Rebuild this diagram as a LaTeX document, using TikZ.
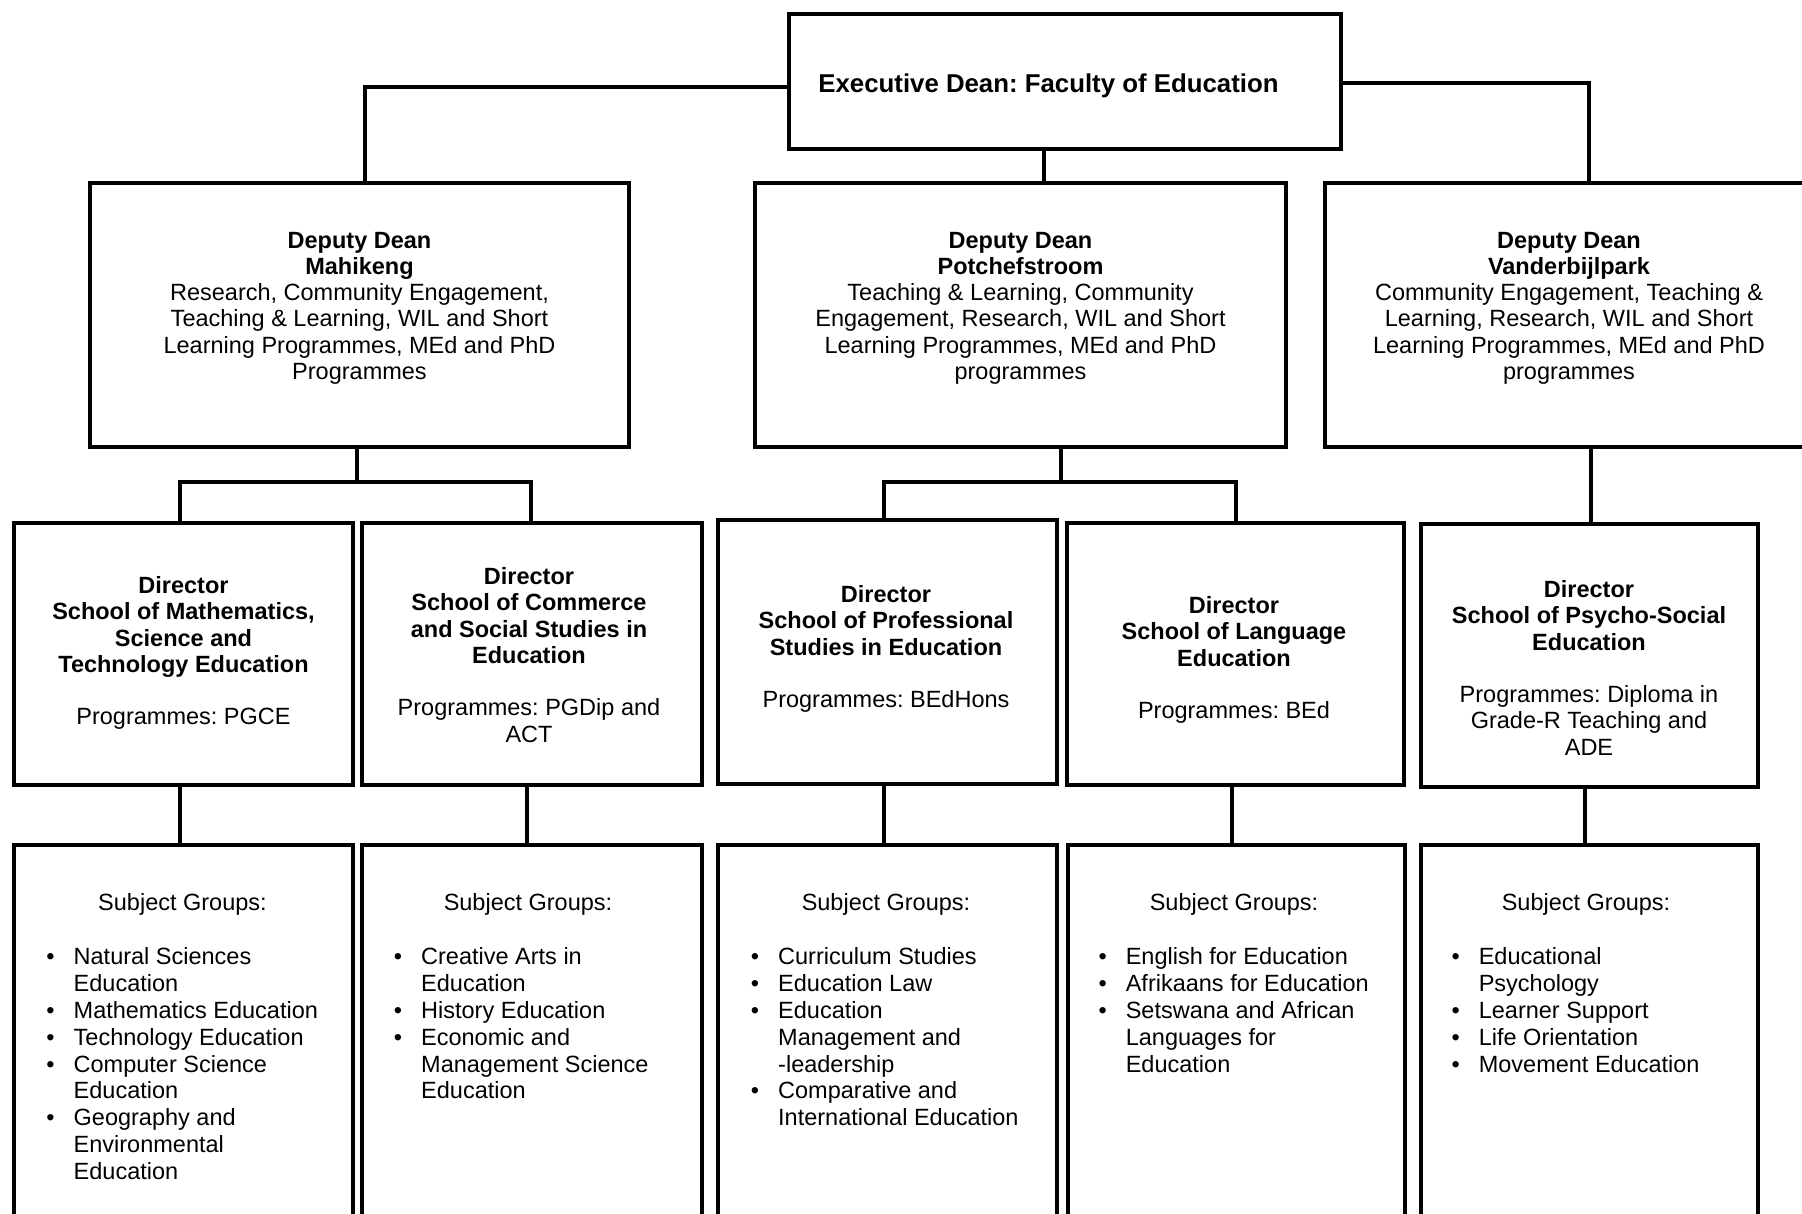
\documentclass[tikz,border=0pt]{standalone}
\usepackage{fontspec}
\setmainfont{Liberation Sans}
\frenchspacing
\newcommand{\ctab}[1]{\begin{tabular}[t]{@{}c@{}}#1\end{tabular}}
\newcommand{\ltab}[1]{\begin{tabular}[t]{@{}l@{}}#1\end{tabular}}
\newcommand{\bul}{\llap{\textbullet\hspace{19pt}}}
\begin{document}
\begin{tikzpicture}[x=1pt,y=-1pt,
  box/.style={draw, line width=4pt, inner sep=0pt, outer sep=0pt, anchor=north west},
  conn/.style={line width=4pt},
  txt/.style={inner sep=0pt, anchor=base, font=\fontsize{23.5}{26.3}\selectfont},
  lst/.style={inner sep=0pt, anchor=base west, font=\fontsize{23.5}{26.9}\selectfont}]
\path[use as bounding box, fill=white] (0,0) rectangle (1802,1213);

% boxes
\node[box, minimum width=552pt, minimum height=135pt] (exec) at (789,14) {};
\node[box, minimum width=539pt, minimum height=264pt] (dm) at (90,183) {};
\node[box, minimum width=531pt, minimum height=264pt] (dp) at (755,183) {};
\node[box, minimum width=488pt, minimum height=264pt] (dv) at (1325,183) {};
\node[box, minimum width=339pt, minimum height=262pt] (dmath) at (14,523) {};
\node[box, minimum width=339.5pt, minimum height=262pt] (dcom) at (362,523) {};
\node[box, minimum width=339pt, minimum height=264pt] (dprof) at (718,520) {};
\node[box, minimum width=337pt, minimum height=262pt] (dlang) at (1067,523) {};
\node[box, minimum width=337pt, minimum height=263pt] (dpsy) at (1421,524) {};
\node[box, minimum width=339pt, minimum height=400pt] (smath) at (14,845) {};
\node[box, minimum width=339.5pt, minimum height=400pt] (scom) at (362,845) {};
\node[box, minimum width=339pt, minimum height=400pt] (sprof) at (718,845) {};
\node[box, minimum width=337pt, minimum height=400pt] (slang) at (1068,845) {};
\node[box, minimum width=337pt, minimum height=400pt] (spsy) at (1421,845) {};

% connectors
\draw[conn] ([yshift=-5.5pt]exec.west) -| ([xshift=5.5pt]dm.north);
\draw[conn] ([yshift=-1.5pt]exec.east) -| ([xshift=20pt]dv.north);
\draw[conn] ([xshift=-21.5pt]exec.south) -- ([xshift=-21.5pt]exec.south |- dp.north);
\draw[conn] ([xshift=-2.5pt]dm.south) -- ++(0,35);
\draw[conn] ([xshift=-3.5pt]dmath.north) -- ++(0,-41) -| ([xshift=-1pt]dcom.north);
\draw[conn] ([xshift=40.5pt]dp.south) -- ++(0,35);
\draw[conn] ([xshift=-3.5pt]dprof.north) -- ++(0,-38) -| (dlang.north);
\draw[conn] ([xshift=1.5pt]dpsy.north) -- ([xshift=1.5pt]dpsy.north |- dv.south);
\draw[conn] ([xshift=-3.5pt]dmath.south) -- ([xshift=-3.5pt]dmath.south |- smath.north);
\draw[conn] ([xshift=-4.75pt]dcom.south) -- ([xshift=-4.75pt]dcom.south |- scom.north);
\draw[conn] ([xshift=-3.5pt]dprof.south) -- ([xshift=-3.5pt]dprof.south |- sprof.north);
\draw[conn] ([xshift=-3.5pt]dlang.south) -- ([xshift=-3.5pt]dlang.south |- slang.north);
\draw[conn] ([xshift=-4.5pt]dpsy.south) -- ([xshift=-4.5pt]dpsy.south |- spsy.north);

% texts
\node[txt, font=\fontsize{25.8}{28}\selectfont\bfseries] (texec) at (1048.5,92) {Executive Dean: Faculty of Education};
\node[txt] (tdm) at (359.5,248) {\ctab{\bfseries Deputy Dean\\\bfseries Mahikeng\\Research, Community Engagement,\\Teaching \& Learning, WIL and Short\\Learning Programmes, MEd and PhD\\Programmes}};
\node[txt] (tdp) at (1020.5,248) {\ctab{\bfseries Deputy Dean\\\bfseries Potchefstroom\\Teaching \& Learning, Community\\Engagement, Research, WIL and Short\\Learning Programmes, MEd and PhD\\programmes}};
\node[txt] (tdv) at (1569,248) {\ctab{\bfseries Deputy Dean\\\bfseries Vanderbijlpark\\Community Engagement, Teaching \&\\Learning, Research, WIL and Short\\Learning Programmes, MEd and PhD\\programmes}};

\node[txt] (tmath) at (183.5,593.4) {\ctab{\bfseries Director\\\bfseries School of Mathematics,\\\bfseries Science and\\\bfseries Technology Education\\ \\Programmes: PGCE}};
\node[txt] (tcom) at (529,584.4) {\ctab{\bfseries Director\\\bfseries School of Commerce\\\bfseries and Social Studies in\\\bfseries Education\\ \\Programmes: PGDip and\\ACT}};
\node[txt] (tprof) at (886,602.4) {\ctab{\bfseries Director\\\bfseries School of Professional\\\bfseries Studies in Education\\ \\Programmes: BEdHons}};
\node[txt] (tlang) at (1234,613.4) {\ctab{\bfseries Director\\\bfseries School of Language\\\bfseries Education\\ \\Programmes: BEd}};
\node[txt] (tpsy) at (1589,597.4) {\ctab{\bfseries Director\\\bfseries School of Psycho-Social\\\bfseries Education\\ \\Programmes: Diploma in\\Grade-R Teaching and\\ADE}};

\node[txt] (gmath) at (182.5,910.4) {Subject Groups:};
\node[txt] (gcom) at (528,910.4) {Subject Groups:};
\node[txt] (gprof) at (886,910.4) {Subject Groups:};
\node[txt] (glang) at (1234,910.4) {Subject Groups:};
\node[txt] (gpsy) at (1586,910.4) {Subject Groups:};

\node[lst] (lmath) at (73.5,964.4) {\ltab{\bul Natural Sciences\\Education\\\bul Mathematics Education\\\bul Technology Education\\\bul Computer Science\\Education\\\bul Geography and\\Environmental\\Education}};
\node[lst] (lcom) at (421,964.4) {\ltab{\bul Creative Arts in\\Education\\\bul History Education\\\bul Economic and\\Management Science\\Education}};
\node[lst] (lprof) at (778,964.4) {\ltab{\bul Curriculum Studies\\\bul Education Law\\\bul Education\\Management and\\-leadership\\\bul Comparative and\\International Education}};
\node[lst] (llang) at (1125.6,964.4) {\ltab{\bul English for Education\\\bul Afrikaans for Education\\\bul Setswana and African\\Languages for\\Education}};
\node[lst] (lpsy) at (1478.6,964.4) {\ltab{\bul Educational\\Psychology\\\bul Learner Support\\\bul Life Orientation\\\bul Movement Education}};
\end{tikzpicture}
\end{document}
